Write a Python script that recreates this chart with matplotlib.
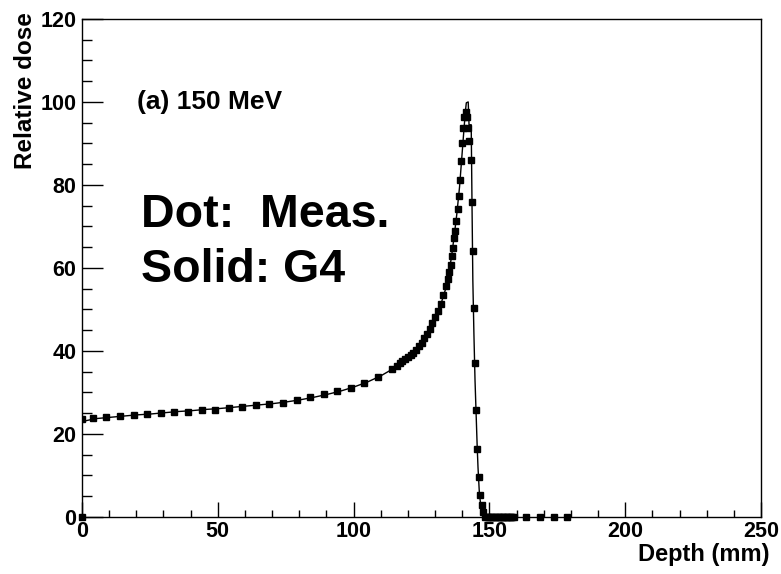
import matplotlib
matplotlib.use("Agg")
import matplotlib.pyplot as plt
from matplotlib.ticker import MultipleLocator

plt.rcParams['font.family'] = ['Liberation Sans', 'DejaVu Sans']

# measured depth-dose points (mm, relative dose)
meas_x = [0, 4, 9, 14, 19, 24, 29, 34, 39, 44, 49, 54, 59, 64, 69, 74, 79, 84,
          89, 94, 99, 104, 109, 114, 116, 117, 118, 119, 120, 121, 122, 123,
          124, 125, 126, 127, 128, 129, 130, 131, 132, 133, 134, 134.6, 135.2,
          135.7, 136.2, 136.6, 137.0, 137.4, 137.8, 138.3, 138.8, 139.3, 139.7,
          140.0, 140.4, 140.8, 141.2, 141.6, 142.1, 142.6, 143.1, 143.5, 143.8,
          144.3, 144.7, 145.1, 145.5, 146.2, 146.5, 147.2, 147.8]
meas_y = [23.5, 23.8, 24.2, 24.3, 24.6, 24.7, 25.0, 25.3, 25.4, 25.8, 25.9,
          26.2, 26.4, 27.0, 27.2, 27.5, 28.2, 28.9, 29.6, 30.3, 31.2, 32.4,
          33.7, 35.6, 36.5, 37.0, 37.6, 38.0, 38.6, 39.1, 39.6, 40.3, 41.1,
          42.0, 43.1, 44.2, 45.4, 46.7, 48.1, 49.7, 51.4, 53.4, 55.7, 57.4,
          59.0, 60.7, 62.8, 64.8, 67.2, 69.0, 71.2, 74.2, 77.3, 81.2, 85.8,
          90.2, 93.7, 96.3, 97.6, 96.4, 93.8, 90.6, 86.0, 76.0, 64.0, 50.3,
          37.2, 25.8, 16.5, 9.7, 5.3, 2.9, 1.3]

# measured points at zero dose (beyond the range, plus origin)
zero_x = [0, 148.5, 149, 149.5, 150, 150.5, 151, 151.5, 152, 152.5, 153,
          153.5, 154, 154.5, 155, 155.5, 156, 156.5, 157, 157.5, 158, 158.5,
          159, 163.5, 168.5, 173.8, 178.7]
zero_y = [0] * len(zero_x)

# Geant4 simulation
g4_x = [0, 5, 10, 15, 20, 25, 30, 35, 40, 45, 50, 55, 60, 65, 70, 75, 80, 85,
        90, 95, 100, 105, 110, 115, 120, 125, 128, 130, 132, 134, 135, 136,
        137, 138, 139, 140, 140.7, 141.2, 141.5, 142.2, 142.5, 143.3, 143.6,
        143.9, 144.3, 144.7, 145.1, 145.5, 145.8, 146.3, 147.0, 147.6, 148,
        160]
g4_y = [23.0, 23.7, 24.0, 24.3, 24.6, 24.8, 25.1, 25.4, 25.6, 25.9, 26.1,
        26.4, 26.7, 27.0, 27.3, 27.7, 28.2, 28.8, 29.5, 30.3, 31.3, 32.5,
        34.0, 35.9, 38.3, 41.7, 44.9, 47.8, 51.0, 55.2, 58.5, 62.5, 67.5,
        73.0, 79.5, 88.0, 94.0, 98.0, 99.8, 100.0, 94.5, 94.5, 75.0, 57.0,
        44.0, 33.0, 25.0, 17.0, 12.0, 5.8, 1.7, 0.3, 0, 0]

fig = plt.figure(figsize=(7.81, 5.74), dpi=100)
ax = fig.add_axes([0.105, 0.0993, 0.8694, 0.8677])

ax.plot(g4_x, g4_y, color='black', lw=1.0, zorder=2)
ax.plot(meas_x, meas_y, 's', color='black', ms=3.8, zorder=3)
ax.plot(zero_x, zero_y, 's', color='black', ms=3.8, zorder=3, clip_on=False)

ax.set_xlim(0, 250)
ax.set_ylim(0, 120)
ax.xaxis.set_major_locator(MultipleLocator(50))
ax.xaxis.set_minor_locator(MultipleLocator(10))
ax.yaxis.set_major_locator(MultipleLocator(20))
ax.yaxis.set_minor_locator(MultipleLocator(5))
ax.tick_params(axis='y', which='major', direction='in', length=15, width=1.0,
               labelsize=15.5, pad=4)
ax.tick_params(axis='y', which='minor', direction='in', length=7.5, width=1.0)
ax.tick_params(axis='x', which='major', direction='in', length=11, width=1.0,
               labelsize=15.5, pad=3)
ax.tick_params(axis='x', which='minor', direction='in', length=5, width=1.0)
for lab in ax.get_xticklabels() + ax.get_yticklabels():
    lab.set_fontweight('bold')
for s in ax.spines.values():
    s.set_linewidth(1.0)

fig.text(770 / 781, 1 - 555 / 574, 'Depth (mm)', ha='right', va='center',
         fontsize=17, fontweight='bold')
fig.text(26 / 781, 1 - 12 / 574, 'Relative dose', ha='center', va='top',
         rotation=90, fontsize=17.5, fontweight='bold')

ax.text(137 / 781, 1 - 102 / 574, '(a) 150 MeV', transform=fig.transFigure,
        ha='left', va='center', fontsize=19, fontweight='bold')
ax.text(141 / 781, 1 - 227 / 574, 'Dot:  Meas.', transform=fig.transFigure,
        ha='left', va='baseline', fontsize=33.5, fontweight='bold')
ax.text(141 / 781, 1 - 282 / 574, 'Solid: G4', transform=fig.transFigure,
        ha='left', va='baseline', fontsize=33.5, fontweight='bold')

fig.savefig('out.png', dpi=100)
